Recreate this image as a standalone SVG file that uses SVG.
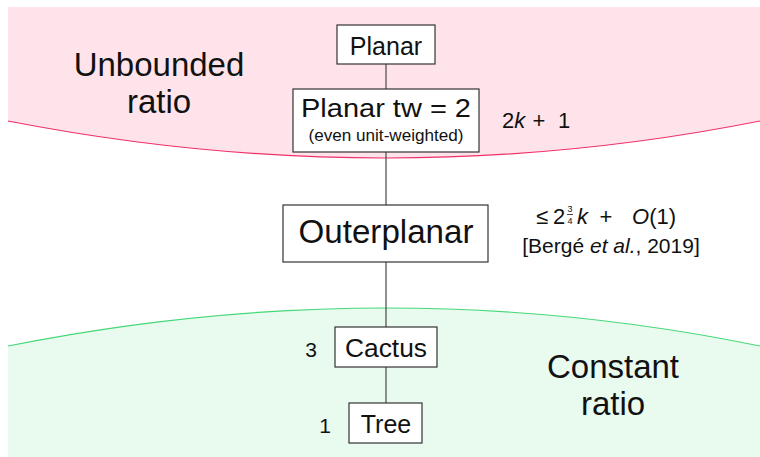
<svg xmlns="http://www.w3.org/2000/svg" width="760" height="457" viewBox="0 0 760 457">
  <style>
    text { font-family: "Liberation Sans", Arial, sans-serif; fill: #111; }
    .box { fill: #fff; stroke: #333; stroke-width: 1.2; }
    .edge { stroke: #555; stroke-width: 1.3; fill: none; }
    .mid { text-anchor: middle; }
    .it { font-style: italic; }
    .region-bad { fill: #fee4ea; }
    .region-good { fill: #e9fbef; }
  </style>

  <!-- zones -->
  <g id="zone-unbounded">
    <path class="region-bad" d="M8,7 H760 V121 Q388,195 8,121 Z"/>
    <path d="M8,121 Q388,195 760,121" fill="none" stroke="#f0306a" stroke-width="1.2"/>
    <text class="mid" x="159" y="76" font-size="33">Unbounded</text>
    <text class="mid" x="159" y="113" font-size="33">ratio</text>
  </g>
  <g id="zone-constant">
    <path class="region-good" d="M8,346 Q388,270 760,346 V457 H8 Z"/>
    <path d="M8,346 Q388,270 760,346" fill="none" stroke="#45d877" stroke-width="1.2"/>
    <text class="mid" x="613" y="378" font-size="33">Constant</text>
    <text class="mid" x="613" y="415" font-size="33">ratio</text>
  </g>

  <!-- connectors -->
  <g id="edges">
    <line class="edge" x1="386" y1="64" x2="386" y2="89"/>
    <line class="edge" x1="386" y1="152" x2="386" y2="205"/>
    <line class="edge" x1="386" y1="262" x2="386" y2="327"/>
    <line class="edge" x1="386" y1="367" x2="386" y2="403"/>
  </g>

  <!-- nodes -->
  <g id="planar">
    <rect class="box" x="337" y="25" width="98" height="39"/>
    <text class="mid" x="386" y="55" font-size="25">Planar</text>
  </g>
  <g id="planar-tw2">
    <rect class="box" x="293" y="89" width="186" height="63"/>
    <text class="mid" x="386" y="117" font-size="25" textLength="170" lengthAdjust="spacingAndGlyphs">Planar tw = 2</text>
    <text class="mid" x="386" y="141" font-size="16" textLength="155" lengthAdjust="spacingAndGlyphs">(even unit-weighted)</text>
  </g>
  <g id="outerplanar">
    <rect class="box" x="283" y="205" width="205" height="57"/>
    <text class="mid" x="386" y="243" font-size="34" textLength="175" lengthAdjust="spacingAndGlyphs">Outerplanar</text>
  </g>
  <g id="cactus">
    <rect class="box" x="335" y="327" width="102" height="40"/>
    <text class="mid" x="386" y="357" font-size="26" textLength="82" lengthAdjust="spacingAndGlyphs">Cactus</text>
  </g>
  <g id="tree">
    <rect class="box" x="349" y="403" width="73" height="40"/>
    <text class="mid" x="386" y="433" font-size="25">Tree</text>
  </g>

  <!-- ratio labels -->
  <g id="label-tw2">
    <text x="502" y="128" font-size="22">2<tspan class="it">k</tspan></text>
    <text class="mid" x="539" y="128" font-size="22">+</text>
    <text x="558" y="128" font-size="22">1</text>
  </g>
  <g id="label-outerplanar">
    <text x="536" y="224" font-size="22">≤</text>
    <text x="553" y="224" font-size="22">2</text>
    <text class="mid" x="570" y="212" font-size="9">3</text>
    <line x1="567" y1="214.5" x2="573" y2="214.5" stroke="#111" stroke-width="0.8"/>
    <text class="mid" x="570" y="223.5" font-size="9">4</text>
    <text class="it" x="577" y="224" font-size="22">k</text>
    <text class="mid" x="606" y="224" font-size="22">+</text>
    <text x="632" y="224" font-size="22"><tspan class="it">O</tspan>(1)</text>
    <text class="mid" x="611" y="253" font-size="21">[Bergé <tspan class="it">et al.</tspan>, 2019]</text>
  </g>
  <g id="label-cactus">
    <text class="mid" x="311" y="357" font-size="21">3</text>
  </g>
  <g id="label-tree">
    <text class="mid" x="325" y="433" font-size="21">1</text>
  </g>
</svg>
